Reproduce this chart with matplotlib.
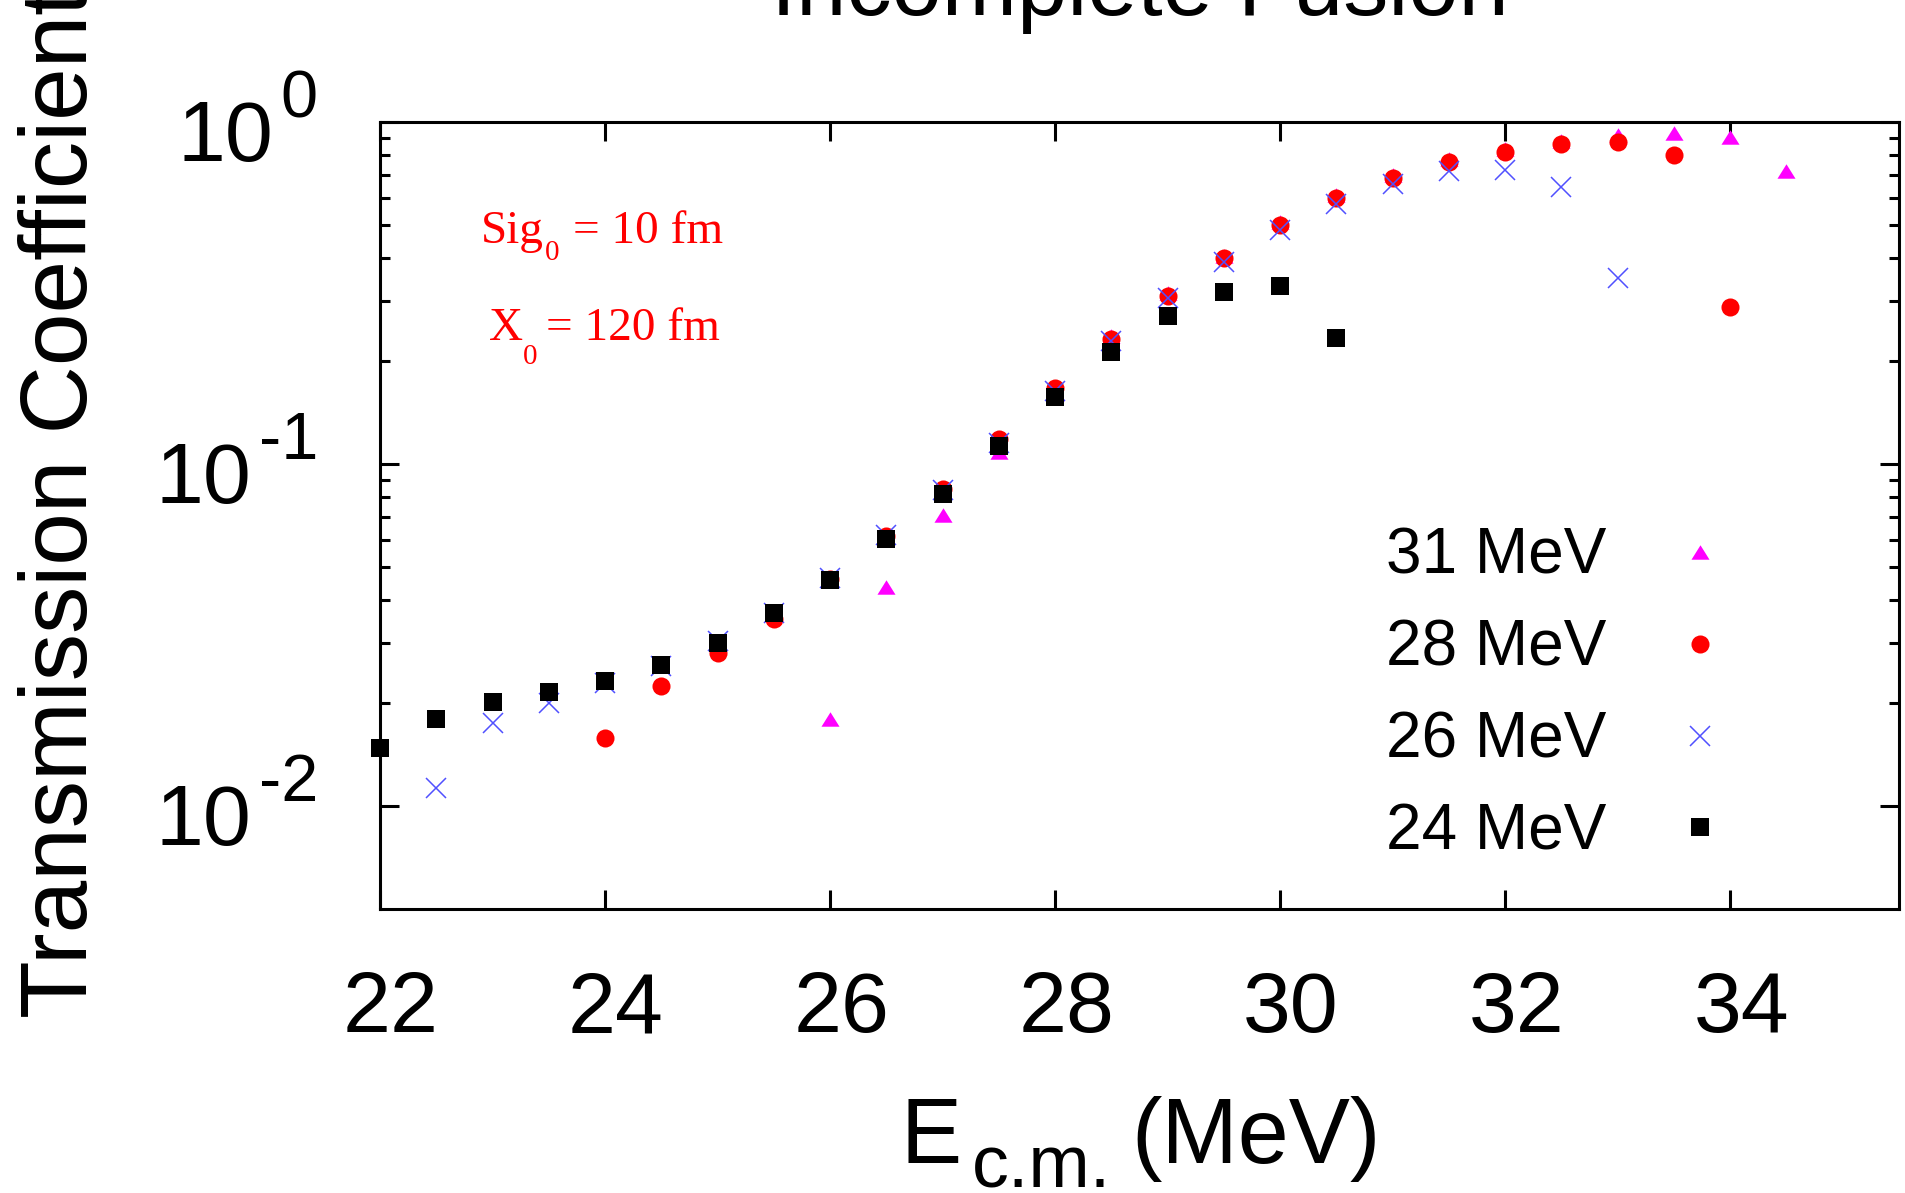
import matplotlib
matplotlib.use('Agg')
import matplotlib.pyplot as plt
from matplotlib.ticker import FixedLocator, NullFormatter
from matplotlib.transforms import ScaledTranslation

plt.rcParams['font.family'] = 'Liberation Sans'

# transmission coefficients vs. centre-of-mass energy, one list per beam energy
e_31 = [26.0, 26.5, 27.0, 27.5, 28.0, 28.5, 29.0, 29.5, 30.0,
        30.5, 31.0, 31.5, 32.0, 32.5, 33.0, 33.5, 34.0, 34.5]
t_31 = [0.0180, 0.0437, 0.0710, 0.1086, 0.160, 0.236, 0.316, 0.407, 0.510,
        0.610, 0.698, 0.782, 0.834, 0.880, 0.916, 0.931, 0.902, 0.719]

e_28 = [24.0, 24.5, 25.0, 25.5, 26.0, 26.5, 27.0, 27.5, 28.0, 28.5, 29.0,
        29.5, 30.0, 30.5, 31.0, 31.5, 32.0, 32.5, 33.0, 33.5, 34.0]
t_28 = [0.0158, 0.0225, 0.0281, 0.0353, 0.0462, 0.0617, 0.0845, 0.118, 0.1665, 0.2315, 0.310,
        0.399, 0.500, 0.598, 0.684, 0.766, 0.819, 0.862, 0.876, 0.801, 0.288]

e_26 = [22.5, 23.0, 23.5, 24.0, 24.5, 25.0, 25.5, 26.0, 26.5, 27.0, 27.5,
        28.0, 28.5, 29.0, 29.5, 30.0, 30.5, 31.0, 31.5, 32.0, 32.5, 33.0]
t_26 = [0.0113, 0.0175, 0.0200, 0.0229, 0.0256, 0.0303, 0.0368, 0.0465, 0.0620, 0.0840, 0.115,
        0.164, 0.229, 0.305, 0.390, 0.483, 0.575, 0.659, 0.719, 0.724, 0.644, 0.351]

e_24 = [22.0, 22.5, 23.0, 23.5, 24.0, 24.5, 25.0, 25.5, 26.0,
        26.5, 27.0, 27.5, 28.0, 28.5, 29.0, 29.5, 30.0, 30.5]
t_24 = [0.0148, 0.0180, 0.0202, 0.0215, 0.0232, 0.0258, 0.0300, 0.0366, 0.0459,
        0.0602, 0.0815, 0.113, 0.157, 0.213, 0.271, 0.319, 0.332, 0.234]

x_ticks = [22, 24, 26, 28, 30, 32, 34]
y_major = [0.01, 0.1, 1.0]
y_exps = ['-2', '-1', '0']
y_minor = [k * 10.0 ** d for d in (-2, -1) for k in range(2, 10)]

W, H, DPI = 1906, 1193, 100
fig = plt.figure(figsize=(W / DPI, H / DPI), dpi=DPI)


def fx(px):
    return px / W


def fy(py):
    # py counted from the top edge
    return 1 - py / H


ax = fig.add_axes([fx(380), fy(909), fx(1899) - fx(380), fy(122) - fy(909)])

tri = [(-1, -0.8), (1, -0.8), (0, 0.8)]
ax.plot(e_31, t_31, ls='none', marker=tri, ms=13, color='#ff00ff', mew=0,
        clip_on=False, label='31 MeV')
ax.plot(e_28, t_28, ls='none', marker='o', ms=13, color='#ff0000', mew=0,
        clip_on=False, label='28 MeV')
ax.plot(e_26, t_26, ls='none', marker='x', ms=14, color='#5050ff', mew=1.1,
        clip_on=False, label='26 MeV')
ax.plot(e_24, t_24, ls='none', marker='s', ms=13, color='black', mew=0,
        clip_on=False, label='24 MeV')

ax.set_yscale('log')
ax.set_xlim(22, 35.5)
ax.set_ylim(0.005, 1)
ax.set_xticks(x_ticks)
ax.yaxis.set_major_locator(FixedLocator(y_major))
ax.yaxis.set_minor_locator(FixedLocator(y_minor))
ax.yaxis.set_minor_formatter(NullFormatter())
ax.tick_params(which='both', direction='in', top=True, right=True, width=2.2)
ax.tick_params(which='major', length=14)
ax.tick_params(which='minor', length=7)
ax.tick_params(axis='y', labelleft=False)
ax.tick_params(axis='x', labelsize=62, pad=44)
for s in ax.spines.values():
    s.set_linewidth(2.2)

shift = ScaledTranslation(11 / DPI, 0, fig.dpi_scale_trans)
for lab in ax.get_xticklabels():
    lab.set_transform(lab.get_transform() + shift)

# decade labels drawn as base + raised exponent
ytr = ax.get_yaxis_transform()
for v, ex in zip(y_major, y_exps):
    sup = ax.annotate(ex, xy=(0, v), xycoords=ytr, xytext=(-62, 5),
                      textcoords='offset pixels', ha='right', va='baseline',
                      fontsize=48, annotation_clip=False)
    ax.annotate('10', xy=(0, v), xycoords=(sup, ytr), xytext=(-7, -39),
                textcoords='offset pixels', ha='right', va='baseline',
                fontsize=62, annotation_clip=False)

fig.text(fx(1140), fy(15), 'Incomplete Fusion', ha='center', va='baseline', fontsize=65)

fig.text(fx(87), fy(503), 'Transmission Coefficient', rotation=90,
         rotation_mode='anchor', ha='center', va='baseline', fontsize=68)

xl_e = fig.text(fx(901), fy(1163), 'E', va='baseline', fontsize=66)
xl_sub = ax.annotate('c.m.', xy=(1, fy(1188)), xycoords=(xl_e, fig.transFigure),
                     xytext=(10, 0), textcoords='offset pixels', va='baseline',
                     fontsize=53, annotation_clip=False)
ax.annotate('(MeV)', xy=(1, fy(1163)), xycoords=(xl_sub, fig.transFigure),
            xytext=(20, 0), textcoords='offset pixels', va='baseline',
            fontsize=66, annotation_clip=False)

serif = dict(family='Liberation Serif', color='red')
fig.text(fx(481), fy(243), 'Sig', va='baseline', fontsize=34, **serif)
fig.text(fx(545), fy(260), '0', va='baseline', fontsize=21, **serif)
fig.text(fx(573), fy(243), '= 10 fm', va='baseline', fontsize=34, **serif)
fig.text(fx(489), fy(340), 'X', va='baseline', fontsize=34, **serif)
fig.text(fx(523), fy(364), '0', va='baseline', fontsize=21, **serif)
fig.text(fx(546), fy(340), '= 120 fm', va='baseline', fontsize=34, **serif)

ax.legend(loc='upper left', bbox_to_anchor=(fx(1386), fy(527)), bbox_transform=fig.transFigure,
          frameon=False, markerfirst=False, fontsize=46, handlelength=1.0,
          handletextpad=0.97, labelspacing=0.50, borderpad=0, borderaxespad=0, numpoints=1)

fig.savefig('out.png', dpi=DPI)
